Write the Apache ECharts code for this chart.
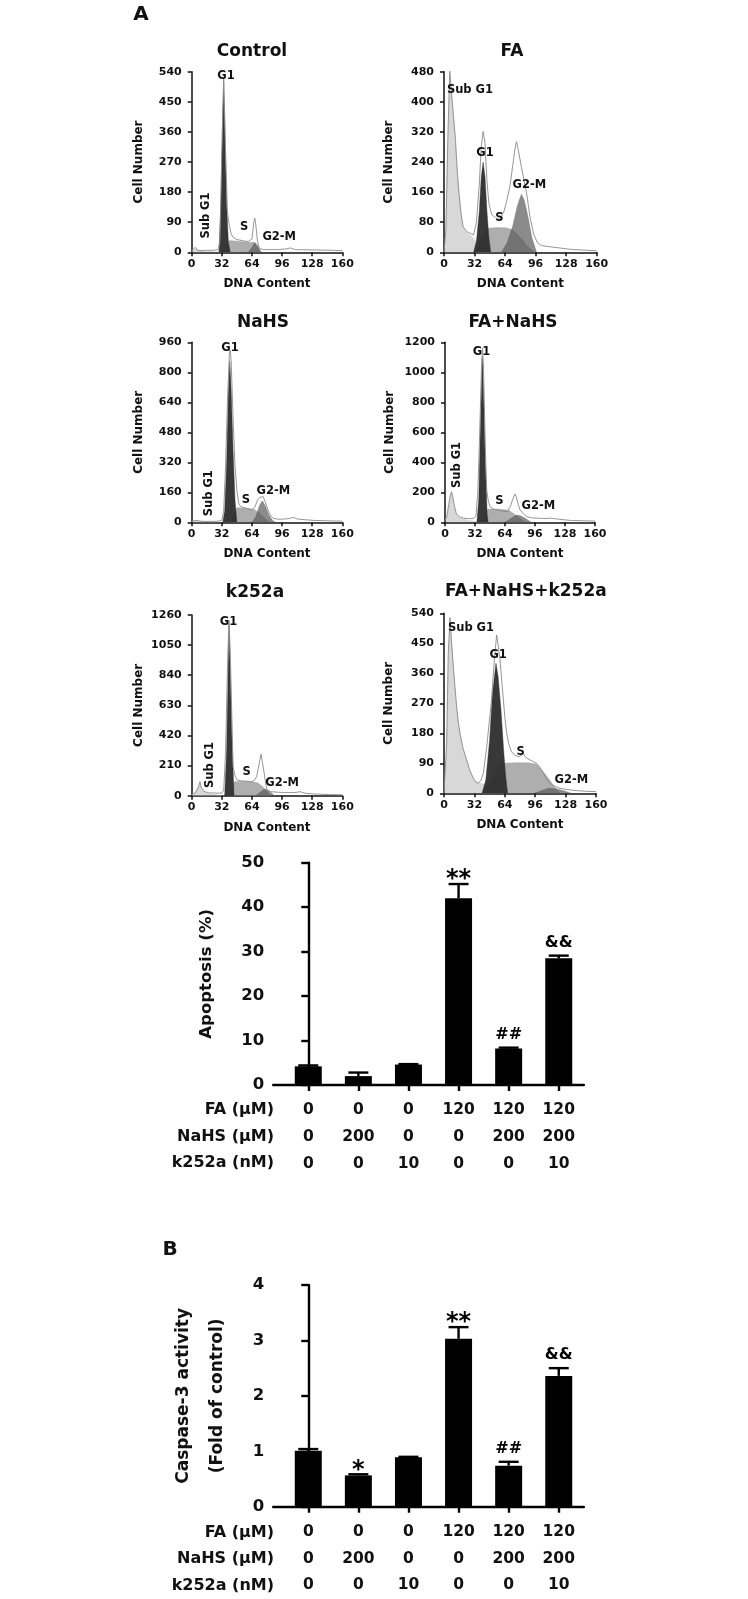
<!DOCTYPE html>
<html><head><meta charset="utf-8">
<script src="https://cdn.jsdelivr.net/npm/echarts@6/dist/echarts.min.js"></script>
<style>html,body{margin:0;padding:0;background:#fff}#c{width:748px;height:1599px}</style>
</head><body><div id="c"></div>
<script>
// ---------------- DATA ----------------
const panelTitles = ['Control', 'FA', 'NaHS', 'FA+NaHS', 'k252a', 'FA+NaHS+k252a'];
const yMax  = [540, 480, 960, 1200, 1260, 540];
const yStep = [90, 80, 160, 200, 210, 90];

// Control
const controlOutline = [[0,5],[2,8],[4,15],[6,6],[10,5],[16,6],[22,6],[28,8],[30,30],[32,300],[34,520],[36,300],[38,120],[40,80],[42,55],[44,45],[48,38],[54,35],[60,32],[64,40],[66,90],[67,102],[68,85],[70,30],[72,12],[76,8],[90,8],[100,10],[105,13],[110,8],[130,7],[150,6],[160,5]];
const controlSubG1 = [[0,4],[4,10],[10,4],[20,3],[28,2],[32,0]];
const controlG1 = [[29,0],[31,150],[33,420],[34,510],[35,400],[37,150],[39,30],[41,0]];
const controlS = [[34,0],[37,25],[40,35],[50,33],[60,30],[66,30],[70,15],[73,0]];
const controlG2 = [[60,0],[64,15],[67,30],[70,20],[74,0]];
const controlLabels = [[36.5,527,'G1',0],[15.2,110,'Sub G1',90],[55.6,75,'S',0],[93,47,'G2-M',0]];

// FA
const faOutline = [[0,0],[2,60],[4,300],[6,483],[8,420],[10,360],[12,300],[14,210],[16,150],[18,100],[20,68],[24,55],[28,50],[31,46],[34,80],[37,180],[39,280],[41,321],[43,290],[45,190],[47,130],[50,100],[54,92],[57,88],[60,95],[63,110],[66,140],[69,174],[72,230],[75,285],[76,294],[78,270],[81,228],[84,190],[87,150],[90,95],[94,48],[98,25],[102,18],[110,15],[120,12],[132,8],[145,6],[160,4]];
const faSubG1 = [[1,0],[2,60],[4,300],[6,470],[8,420],[10,360],[12,300],[14,210],[16,150],[18,100],[20,68],[24,52],[28,45],[32,35],[36,25],[40,12],[45,0]];
const faG1 = [[31,0],[34,30],[37,110],[39,200],[41,240],[43,200],[45,110],[47,40],[49,0]];
const faS = [[33,0],[38,30],[42,55],[46,64],[55,66],[65,65],[72,60],[80,40],[88,15],[95,0]];
const faG2 = [[60,0],[66,25],[72,70],[77,125],[81,154],[84,140],[88,95],[92,40],[97,0]];
const faLabels = [[27.2,431,'Sub G1',0],[43,265,'G1',0],[58,90,'S',0],[89.4,179,'G2-M',0]];

// NaHS
const nahsOutline = [[0,5],[3,10],[5,16],[7,8],[12,5],[20,5],[28,6],[32,10],[34,60],[36,300],[38,650],[40,900],[41,919],[42,850],[44,550],[46,300],[48,170],[50,100],[52,84],[56,78],[60,72],[64,66],[67,80],[70,120],[72,132],[74,125],[76,137],[78,110],[81,66],[84,35],[87,21],[92,16],[100,18],[105,22],[108,26],[112,18],[120,14],[130,10],[145,8],[160,6]];
const nahsSubG1 = [[0,3],[5,10],[10,4],[20,2],[30,0]];
const nahsG1 = [[33,0],[35,60],[37,300],[39,700],[40.5,860],[42,700],[44,380],[46,120],[48,0]];
const nahsS = [[42,0],[45,50],[48,78],[56,76],[62,72],[66,70],[72,50],[78,20],[83,0]];
const nahsG2 = [[64,0],[68,30],[72,90],[75,115],[78,90],[82,40],[86,10],[89,0]];
const nahsLabels = [[40.7,928,'G1',0],[18.8,155,'Sub G1',90],[57.7,119,'S',0],[86.7,169,'G2-M',0]];

// FA+NaHS
const faNahsOutline = [[0,10],[2,40],[4,120],[6,190],[7,204],[8,180],[10,110],[12,60],[15,38],[20,27],[26,24],[30,25],[33,40],[35,200],[37,600],[39,1050],[40,1160],[41,1050],[43,500],[44.5,215],[46,150],[48,104],[52,88],[56,82],[60,76],[64,71],[67,75],[70,110],[72,150],[74.7,189],[76,170],[78,120],[80,82],[84,55],[87,38],[92,30],[100,27],[108,25],[112,28],[114,32],[116,25],[125,18],[135,12],[150,10],[160,8]];
const faNahsSubG1 = [[1,0],[2,35],[4,110],[6,180],[7,195],[8,170],[10,100],[12,55],[15,32],[20,20],[26,12],[32,5],[36,0]];
const faNahsG1 = [[34,0],[36,150],[38,700],[39.8,1100],[41,900],[43,400],[45,50],[46,0]];
const faNahsS = [[40,0],[43,60],[46,88],[55,88],[62,85],[68,80],[74,55],[80,25],[86,0]];
const faNahsG2 = [[64,0],[70,25],[76,48],[80,45],[86,25],[92,0]];
const faNahsLabels = [[39,1133,'G1',0],[13,382,'Sub G1',90],[58,142,'S',0],[99.6,109,'G2-M',0]];

// k252a
const k252aOutline = [[0,10],[4,20],[7,60],[8.8,98],[10,60],[13,30],[18,20],[25,18],[32,18],[34,40],[36,300],[38,900],[39.6,1225],[41,1000],[43,450],[44,202],[46,140],[48,110],[52,104],[56,102],[60,100],[64,98],[67,110],[69,133],[71,200],[73.6,290],[75,240],[77,156],[79,70],[80,40],[84,28],[92,24],[100,22],[110,22],[115,28],[120,18],[130,12],[145,8],[160,6]];
const k252aSubG1 = [[0,5],[5,30],[8.8,80],[11,40],[16,15],[25,8],[34,0]];
const k252aG1 = [[35,0],[37,300],[38.5,800],[39.6,1200],[41,850],[43,350],[45,0]];
const k252aS = [[41,0],[43,60],[45,98],[55,100],[64,97],[70,90],[76,60],[80,30],[84,0]];
const k252aG2 = [[68,0],[72,20],[76,42],[79,45],[83,30],[88,0]];
const k252aLabels = [[39,1214,'G1',0],[19.5,214,'Sub G1',90],[58.4,167,'S',0],[96,86,'G2-M',0]];

// FA+NaHS+k252a
const triOutline = [[0,0],[2.8,150],[4.5,420],[6.3,527],[8,450],[9.8,380],[11.5,320],[13.3,260],[15,215],[16.8,180],[20,135],[23.9,100],[27,70],[30.9,45],[33,35],[36,30],[39,40],[41.4,60],[43,95],[45,140],[47.5,210],[50,280],[53,400],[55.4,475],[57,445],[59,400],[61,330],[62.5,280],[64,230],[66,180],[68,150],[71,125],[74,115],[78,110],[81,112],[83.5,120],[86,108],[90.5,100],[94,95],[97.5,90],[101,78],[104.6,60],[108,42],[111.6,30],[116,22],[122,15],[130,11],[139.6,8],[150,6],[160,5]];
const triSubG1 = [[1,0],[2.8,150],[4.5,410],[6.3,515],[8,450],[9.8,380],[11.5,320],[13.3,260],[15,215],[16.8,180],[20,135],[23.9,100],[27,70],[30.9,45],[34,35],[38,30],[42,28],[46,20],[50,10],[55,0]];
const triG1 = [[40,0],[44,40],[48,160],[51,300],[54.7,390],[57,350],[60,250],[63,120],[65,50],[67,0]];
const triS = [[40,0],[46,25],[52,50],[58,80],[63,90],[75,92],[88,92],[97,88],[103,70],[110,45],[116,20],[122,0]];
const triG2 = [[95,0],[102,8],[110,15],[118,14],[126,8],[134,0]];
const triLabels = [[28.4,497,'Sub G1',0],[57,415,'G1',0],[80.7,125,'S',0],[134,40,'G2-M',0]];

// Bar charts
const rowTitles = ['FA (µM)', 'NaHS (µM)', 'k252a (nM)'];
const faDose    = ['0','0','0','120','120','120'];
const nahsDose  = ['0','200','0','0','200','200'];
const k252aDose = ['0','0','10','0','0','10'];
const apoptosisMean = [4.2, 2.0, 4.6, 42.0, 8.2, 28.5];
const apoptosisSem  = [0.2, 0.8, 0.1, 3.2, 0.2, 0.6];
const apoptosisMark = ['', '', '', '**', '##', '&&'];
const caspaseMean = [1.01, 0.565, 0.89, 3.03, 0.74, 2.36];
const caspaseSem  = [0.03, 0.02, 0.01, 0.21, 0.07, 0.14];
const caspaseMark = ['', '*', '', '**', '##', '&&'];

// ---------------- LAYOUT / STYLE ----------------
const FONT = 'DejaVu Sans';
const INK = '#111';
const hist = [
  {o:controlOutline, sub:controlSubG1, g1:controlG1, s:controlS, g2:controlG2, lab:controlLabels},
  {o:faOutline, sub:faSubG1, g1:faG1, s:faS, g2:faG2, lab:faLabels},
  {o:nahsOutline, sub:nahsSubG1, g1:nahsG1, s:nahsS, g2:nahsG2, lab:nahsLabels},
  {o:faNahsOutline, sub:faNahsSubG1, g1:faNahsG1, s:faNahsS, g2:faNahsG2, lab:faNahsLabels},
  {o:k252aOutline, sub:k252aSubG1, g1:k252aG1, s:k252aS, g2:k252aG2, lab:k252aLabels},
  {o:triOutline, sub:triSubG1, g1:triG1, s:triS, g2:triG2, lab:triLabels}
];
const histGrids = [
  {left:191.7, top:71.7, width:150.6, height:180.6},
  {left:444,   top:71.7, width:152.7, height:180.6},
  {left:191.7, top:342.3, width:150.6, height:180},
  {left:445,   top:342.3, width:150, height:180},
  {left:191.7, top:615, width:150.6, height:180.7},
  {left:444,   top:613.3, width:152, height:180}
];
const titlePos = [[252,52,'center'],[512,52,'center'],[263,323,'center'],[513,323,'center'],[255,593,'center'],[445,592,'left']];
const barGrids = [
  {left:273.2, top:862.7, width:310.6, height:222.3},
  {left:273.2, top:1285, width:310.6, height:221.7}
];
const rowY = [[1110,1136.7,1163.3],[1532.7,1559.3,1586]];

const grids = [], xAxes = [], yAxes = [], series = [];
const bold = (size) => ({fontFamily:FONT, fontWeight:'bold', fontSize:size, color:INK});
const plain = (v) => String(v);

hist.forEach((h, i) => {
  grids.push(Object.assign({containLabel:false}, histGrids[i]));
  xAxes.push({type:'value', gridIndex:i, min:0, max:160, interval:32,
    name:'DNA Content', nameLocation:'middle', nameGap:26, nameTextStyle:bold(12),
    axisLine:{show:true, onZero:false, lineStyle:{color:INK, width:1.5}},
    axisTick:{show:true, length:4, lineStyle:{color:INK, width:1.5}},
    axisLabel:Object.assign({margin:6, formatter:plain}, bold(11)), splitLine:{show:false}});
  yAxes.push({type:'value', gridIndex:i, min:0, max:yMax[i], interval:yStep[i],
    name:'Cell Number', nameLocation:'middle', nameGap:(i%2?49:47), nameTextStyle:bold(12),
    axisLine:{show:true, lineStyle:{color:INK, width:1.5}},
    axisTick:{show:true, length:4, lineStyle:{color:INK, width:1.5}},
    axisLabel:Object.assign({margin:10, formatter:plain}, bold(11)), splitLine:{show:false}});
  const area = (data, color, z) => ({type:'line', xAxisIndex:i, yAxisIndex:i, data, symbol:'none', silent:true,
    lineStyle:{width:0.4, color}, areaStyle:{color, opacity:1}, z});
  series.push(area(h.sub, 'rgba(190,190,190,0.6)', 2));
  series.push(area(h.s, 'rgba(140,140,140,0.7)', 3));
  series.push(area(h.g2, 'rgba(90,90,90,0.7)', 4));
  series.push(area(h.g1, 'rgba(45,45,45,0.95)', 5));
  series.push({type:'line', xAxisIndex:i, yAxisIndex:i, data:h.o, symbol:'none', silent:true,
    lineStyle:{width:0.9, color:'#8a8a8a'}, z:6});
  series.push({type:'custom', xAxisIndex:i, yAxisIndex:i, silent:true, z:7, encode:{x:0, y:1},
    data:h.lab.map(l => [l[0], l[1], l[3]]),
    renderItem:(params, api) => {
      const p = api.coord([api.value(0), api.value(1)]);
      const lab = h.lab[params.dataIndex];
      return {type:'text', x:p[0], y:p[1], rotation:lab[3] * Math.PI / 180,
        style:{text:lab[2], fontFamily:FONT, fontWeight:'bold', fontSize:11.5, fill:INK, align:'center', verticalAlign:'middle'}};
    }});
});

const barSets = [
  {mean:apoptosisMean, sem:apoptosisSem, mark:apoptosisMark, max:50, step:10, name:'Apoptosis (%)', gap:56, lh:20},
  {mean:caspaseMean, sem:caspaseSem, mark:caspaseMark, max:4, step:1, name:'Caspase-3 activity\n(Fold of control)', gap:39, lh:34}
];
barSets.forEach((b, k) => {
  const gi = 6 + k;
  grids.push(Object.assign({containLabel:false}, barGrids[k]));
  xAxes.push({type:'value', gridIndex:gi, min:-0.7, max:5.5,
    axisLine:{show:true, onZero:false, lineStyle:{color:'#000', width:2.4}},
    axisTick:{show:true, length:6, customValues:[0,1,2,3,4,5], lineStyle:{color:'#000', width:2.4}},
    axisLabel:Object.assign({margin:12, lineHeight:26.7, customValues:[0,1,2,3,4,5],
      formatter:(v) => [faDose, nahsDose, k252aDose].map(a => a[Math.round(v)]).join('\n')}, bold(15.5)),
    splitLine:{show:false}});
  yAxes.push({type:'value', gridIndex:gi, min:0, max:b.max, interval:b.step,
    name:b.name, nameLocation:'middle', nameGap:b.gap,
    nameTextStyle:Object.assign({lineHeight:b.lh}, bold(k ? 17 : 16.5)),
    axisLine:{show:true, lineStyle:{color:'#000', width:2.4}},
    axisTick:{show:true, length:7, lineStyle:{color:'#000', width:2.4}},
    axisLabel:Object.assign({margin:9}, bold(16.5)), splitLine:{show:false}});
  series.push({type:'bar', xAxisIndex:gi, yAxisIndex:gi, barWidth:27, silent:true,
    itemStyle:{color:'#000'}, data:b.mean.map((v, i) => [i, v]), z:3});
  series.push({type:'custom', xAxisIndex:gi, yAxisIndex:gi, silent:true, z:4,
    encode:{x:0, y:1},
    data:b.mean.map((v, i) => [i, v, b.sem[i]]),
    renderItem:(params, api) => {
      const x = api.value(0), m = api.value(1), e = api.value(2);
      const p0 = api.coord([x, m]), p1 = api.coord([x, m + e]);
      const mk = b.mark[params.dataIndex];
      const children = [
        {type:'line', shape:{x1:p0[0], y1:p0[1], x2:p1[0], y2:p1[1]}, style:{stroke:'#000', lineWidth:2.4}},
        {type:'line', shape:{x1:p1[0]-10, y1:p1[1], x2:p1[0]+10, y2:p1[1]}, style:{stroke:'#000', lineWidth:2.4}}
      ];
      if (mk) {
        const star = mk[0] === '*';
        children.push({type:'text', x:p1[0], y:p1[1] - (star ? 4 : 13),
          style:{text:mk, fontFamily:FONT, fontWeight:'bold', fontSize:(star ? 24 : 16), fill:'#000', align:'center', verticalAlign:'middle'}});
      }
      return {type:'group', children};
    }});
});

const graphics = [];
graphics.push({type:'text', x:141, y:15, style:{text:'A', fontFamily:FONT, fontWeight:'bold', fontSize:20, fill:INK, align:'center', verticalAlign:'middle'}});
graphics.push({type:'text', x:170, y:1250, style:{text:'B', fontFamily:FONT, fontWeight:'bold', fontSize:20, fill:INK, align:'center', verticalAlign:'middle'}});
panelTitles.forEach((t, i) => graphics.push({type:'text', x:titlePos[i][0], y:titlePos[i][1],
  style:{text:t, fontFamily:FONT, fontWeight:'bold', fontSize:17, fill:INK, align:titlePos[i][2], verticalAlign:'middle'}}));
rowY.forEach(rows => rows.forEach((y, r) => graphics.push({type:'text', x:274, y,
  style:{text:rowTitles[r], fontFamily:FONT, fontWeight:'bold', fontSize:16, fill:INK, align:'right', verticalAlign:'middle'}})));

const chart = echarts.init(document.getElementById('c'), null, {renderer:'canvas'});
chart.setOption({
  backgroundColor:'#ffffff',
  animation:false,
  grid:grids, xAxis:xAxes, yAxis:yAxes, series, graphic:graphics
});
</script></body></html>
